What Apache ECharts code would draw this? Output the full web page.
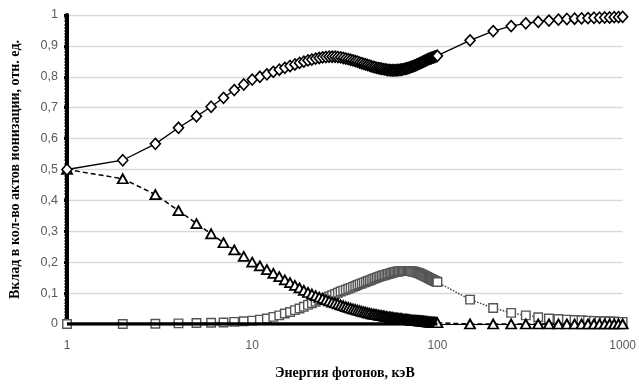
<!DOCTYPE html>
<html>
<head>
<meta charset="utf-8">
<script src="https://cdn.jsdelivr.net/npm/echarts@6/dist/echarts.min.js"></script>
<style>html,body{margin:0;padding:0;background:#fff;}#c{width:639px;height:385px;}</style>
</head>
<body>
<div id="c"></div>
<script>
const energy = [1,2,3,4,5,6,7,8,9,
10,11,12,13,14,15,16,17,18,19,
20,21,22,23,24,25,26,27,28,29,
30,31,32,33,34,35,36,37,38,39,
40,41,42,43,44,45,46,47,48,49,
50,51,52,53,54,55,56,57,58,59,
60,61,62,63,64,65,66,67,68,69,
70,71,72,73,74,75,76,77,78,79,
80,81,82,83,84,85,86,87,88,89,
90,91,92,93,94,95,96,97,98,99,
100,150,200,250,300,350,400,450,500,550,600,650,700,750,800,850,900,950,1000];

const diamondVals = [0.500,0.530,0.583,0.635,0.672,0.703,0.732,0.757,0.775,
0.791,0.800,0.808,0.816,0.823,0.829,0.835,0.840,0.845,0.849,
0.853,0.856,0.859,0.861,0.863,0.864,0.865,0.865,0.865,0.864,
0.863,0.861,0.859,0.857,0.855,0.853,0.851,0.849,0.846,0.844,
0.842,0.840,0.838,0.836,0.834,0.832,0.831,0.829,0.828,0.827,
0.826,0.825,0.824,0.823,0.822,0.822,0.821,0.821,0.821,0.821,
0.821,0.822,0.822,0.823,0.823,0.824,0.825,0.826,0.827,0.828,
0.829,0.830,0.832,0.833,0.834,0.836,0.837,0.839,0.840,0.842,
0.843,0.845,0.846,0.848,0.849,0.851,0.852,0.854,0.855,0.857,
0.858,0.859,0.860,0.861,0.862,0.863,0.864,0.865,0.866,0.867,
0.868,0.918,0.948,0.964,0.973,0.978,0.982,0.985,0.987,0.988,0.989,0.990,0.991,0.991,0.992,0.992,0.993,0.993,0.994];

const triangleVals = [0.500,0.470,0.419,0.367,0.325,0.292,0.263,0.240,0.219,
0.200,0.188,0.176,0.164,0.153,0.143,0.134,0.125,0.117,0.109,
0.102,0.097,0.092,0.087,0.083,0.079,0.075,0.071,0.068,0.065,
0.062,0.059,0.056,0.054,0.051,0.049,0.047,0.045,0.043,0.041,
0.039,0.038,0.036,0.035,0.033,0.032,0.031,0.030,0.029,0.028,
0.027,0.026,0.025,0.024,0.023,0.022,0.022,0.021,0.020,0.020,
0.019,0.018,0.018,0.017,0.017,0.016,0.016,0.015,0.015,0.014,
0.014,0.013,0.013,0.012,0.012,0.012,0.011,0.011,0.011,0.010,
0.010,0.010,0.009,0.009,0.009,0.008,0.008,0.008,0.007,0.007,
0.007,0.006,0.006,0.006,0.005,0.005,0.005,0.005,0.004,0.004,
0.004,0,0,0,0,0,0,0,0,0,0,0,0,0,0,0,0,0,0];

const squareVals = [0,0,0.001,0.002,0.003,0.004,0.005,0.007,0.009,
0.011,0.014,0.018,0.023,0.028,0.034,0.039,0.045,0.050,0.056,
0.062,0.067,0.072,0.077,0.081,0.085,0.089,0.093,0.097,0.101,
0.105,0.108,0.111,0.114,0.117,0.120,0.123,0.126,0.129,0.131,
0.134,0.136,0.139,0.141,0.143,0.146,0.148,0.150,0.152,0.154,
0.156,0.157,0.159,0.160,0.162,0.163,0.164,0.166,0.167,0.168,
0.169,0.170,0.170,0.171,0.171,0.172,0.172,0.172,0.172,0.172,
0.172,0.171,0.171,0.170,0.170,0.169,0.168,0.167,0.166,0.165,
0.164,0.162,0.161,0.159,0.158,0.156,0.155,0.153,0.152,0.150,
0.149,0.147,0.146,0.144,0.143,0.142,0.140,0.139,0.138,0.137,
0.136,0.079,0.052,0.036,0.028,0.022,0.018,0.016,0.014,0.013,0.012,0.011,0.010,0.009,0.009,0.008,0.008,0.007,0.007];

const baseX = [1, 100];
const baseY = [0, 0];

const xTicks = ['1','10','100','1000'];

const pairs = (xs, ys) => xs.map((x, i) => [x, ys[i]]);

const chart = echarts.init(document.getElementById('c'));
chart.setOption({
  animation: false,
  backgroundColor: '#fff',
  grid: { left: 62, right: 14, top: 15, bottom: 61 },
  xAxis: {
    type: 'log', logBase: 10, min: 1, max: 1000,
    name: 'Энергия фотонов, кэВ', nameLocation: 'middle', nameGap: 42,
    nameTextStyle: { fontFamily: 'Liberation Serif', fontWeight: 'bold', fontSize: 14, color: '#000' },
    axisLine: { show: true, lineStyle: { color: '#000', width: 1 } },
    axisTick: { show: false },
    splitLine: { show: false },
    axisLabel: { color: '#595959', fontFamily: 'Liberation Sans', fontSize: 12, margin: 16,
      formatter: v => xTicks.includes(String(Math.round(v))) ? String(Math.round(v)) : '' }
  },
  yAxis: {
    type: 'value', min: 0, max: 1, interval: 0.1,
    name: 'Вклад в кол-во актов ионизации, отн. ед.', nameLocation: 'middle', nameGap: 45,
    nameTextStyle: { fontFamily: 'Liberation Serif', fontWeight: 'bold', fontSize: 14, color: '#000' },
    axisLine: { show: true, lineStyle: { color: '#000', width: 4 } },
    axisTick: { show: true, length: 3, lineStyle: { color: '#000', width: 3 } },
    minorTick: { show: true, splitNumber: 10, length: 2.5, lineStyle: { color: '#000', width: 1.8 } },
    splitLine: { show: true, lineStyle: { color: '#d9d9d9', width: 1.3 } },
    axisLabel: { color: '#595959', fontFamily: 'Liberation Sans', fontSize: 12.5, margin: 9,
      formatter: v => String(Math.round(v * 10) / 10).replace('.', ',') }
  },
  series: [
    {
      type: 'line', name: 'squares', data: pairs(energy, squareVals),
      symbol: 'rect', symbolSize: 8.5,
      lineStyle: { color: '#444', width: 1.5, type: 'dotted' },
      itemStyle: { color: '#fff', borderColor: '#555', borderWidth: 1.4 }, z: 2
    },
    {
      type: 'line', name: 'triangles', data: pairs(energy, triangleVals),
      symbol: 'triangle', symbolSize: [10, 9],
      lineStyle: { color: '#000', width: 1.5, type: [5, 3] },
      itemStyle: { color: '#fff', borderColor: '#000', borderWidth: 1.8 }, z: 3
    },
    {
      type: 'line', name: 'diamonds', data: pairs(energy, diamondVals),
      symbol: 'diamond', symbolSize: [10, 11],
      lineStyle: { color: '#000', width: 1.3 },
      itemStyle: { color: '#fff', borderColor: '#000', borderWidth: 1.6 }, z: 4
    },
    {
      type: 'line', name: 'base', data: pairs(baseX, baseY),
      symbol: 'none',
      lineStyle: { color: '#000', width: 3.5 }, z: 5
    }
  ]
});
</script>
</body>
</html>
